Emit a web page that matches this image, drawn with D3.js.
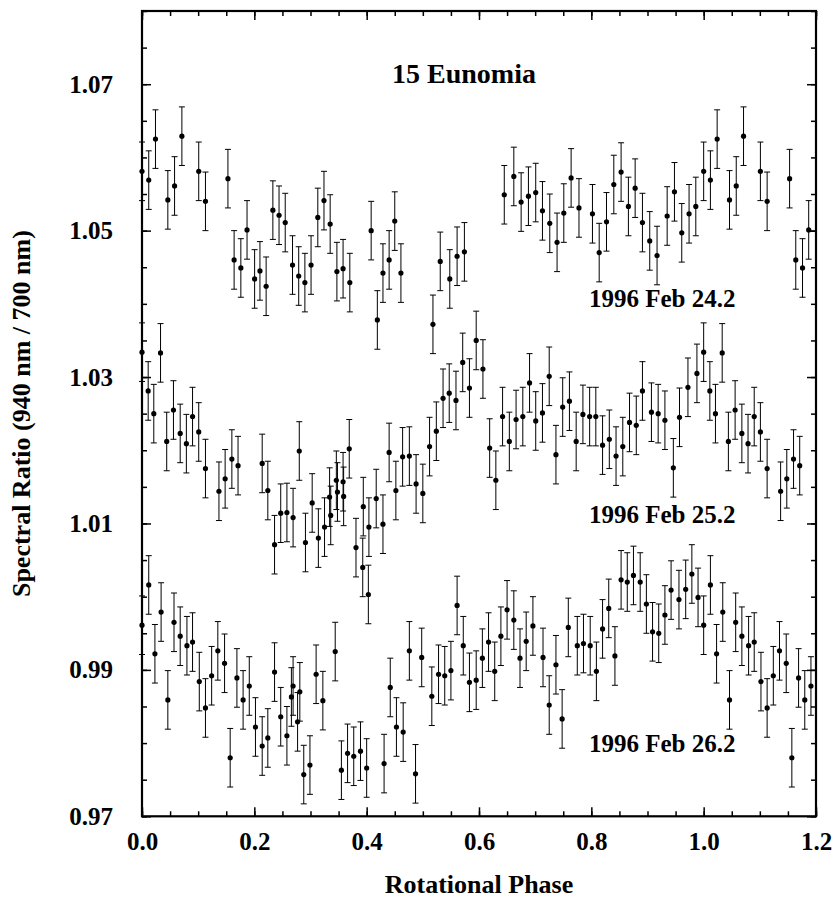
<!DOCTYPE html>
<html>
<head>
<meta charset="utf-8">
<script src="https://cdn.jsdelivr.net/npm/d3@7"></script>
<style>
  body { margin: 0; background: #fff; }
  svg text { font-family: "Liberation Serif", "Times New Roman", serif; font-weight: bold; fill: #000; }
</style>
</head>
<body>
<svg id="chart" width="833" height="916"></svg>
<script>
// rotational phase (0..1) and spectral ratio, one pair of arrays per night
const phase24 = [0.000,0.012,0.024,0.046,0.058,0.071,0.101,0.113,0.153,0.164,0.176,0.187,0.2005,0.210,0.221,0.233,0.244,0.255,0.268,0.279,0.290,0.301,0.313,0.324,0.335,0.347,0.358,0.370,0.408,0.419,0.429,0.440,0.450,0.461,0.518,0.531,0.548,0.561,0.574,0.645,0.662,0.675,0.688,0.701,0.713,0.726,0.739,0.751,0.764,0.778,0.802,0.814,0.827,0.840,0.853,0.866,0.878,0.891,0.904,0.917,0.935,0.948,0.961,0.974,0.986];
const ratio24 = [1.0581,1.0569,1.0625,1.0542,1.0561,1.0629,1.0581,1.0540,1.0571,1.0460,1.0449,1.0501,1.0434,1.0445,1.0424,1.0528,1.0521,1.0511,1.0453,1.0438,1.0429,1.0453,1.0518,1.0541,1.0509,1.0444,1.0448,1.0429,1.0500,1.0378,1.0442,1.0460,1.0513,1.0442,1.0372,1.0458,1.0434,1.0465,1.0471,1.0549,1.0574,1.0539,1.0547,1.0552,1.0527,1.0510,1.0484,1.0524,1.0572,1.0531,1.0523,1.0470,1.0512,1.0563,1.0580,1.0533,1.0558,1.0511,1.0486,1.0466,1.0520,1.0553,1.0497,1.0523,1.0533];

const phase25 = [0.000,0.011,0.021,0.033,0.044,0.056,0.068,0.079,0.090,0.101,0.113,0.137,0.148,0.160,0.171,0.214,0.224,0.236,0.247,0.258,0.269,0.280,0.291,0.303,0.314,0.325,0.334,0.336,0.346,0.348,0.358,0.359,0.369,0.381,0.393,0.394,0.404,0.403,0.417,0.429,0.440,0.452,0.464,0.476,0.488,0.500,0.512,0.524,0.536,0.547,0.559,0.571,0.583,0.595,0.607,0.619,0.630,0.642,0.654,0.666,0.678,0.690,0.701,0.713,0.725,0.737,0.749,0.761,0.773,0.785,0.797,0.808,0.820,0.832,0.844,0.856,0.868,0.880,0.891,0.907,0.919,0.931,0.946,0.957,0.972,0.988];
const ratio25 = [1.0334,1.0281,1.0250,1.0333,1.0212,1.0255,1.0223,1.0209,1.0246,1.0225,1.0175,1.0144,1.0161,1.0188,1.0179,1.0182,1.0145,1.0071,1.0114,1.0115,1.0108,1.0199,1.0074,1.0128,1.0080,1.0095,1.0136,1.0111,1.0159,1.0143,1.0157,1.0137,1.0202,1.0067,1.0040,1.0123,1.0095,1.0003,1.0134,1.0099,1.0197,1.0145,1.0191,1.0192,1.0154,1.0141,1.0205,1.0226,1.0271,1.0278,1.0268,1.0320,1.0285,1.0350,1.0311,1.0203,1.0159,1.0246,1.0212,1.0242,1.0246,1.0292,1.0240,1.0251,1.0301,1.0194,1.0259,1.0267,1.0212,1.0249,1.0246,1.0246,1.0207,1.0215,1.0192,1.0205,1.0238,1.0234,1.0281,1.0252,1.0250,1.0241,1.0176,1.0245,1.0286,1.0305];

const phase26 = [0.000,0.012,0.023,0.034,0.046,0.057,0.068,0.080,0.090,0.102,0.113,0.124,0.135,0.147,0.157,0.169,0.180,0.191,0.202,0.214,0.224,0.236,0.247,0.258,0.266,0.269,0.277,0.281,0.288,0.299,0.310,0.322,0.344,0.355,0.366,0.377,0.389,0.400,0.431,0.442,0.453,0.465,0.476,0.487,0.498,0.516,0.528,0.539,0.550,0.561,0.572,0.583,0.595,0.606,0.617,0.628,0.639,0.650,0.662,0.673,0.684,0.696,0.714,0.725,0.737,0.748,0.759,0.775,0.786,0.798,0.809,0.820,0.831,0.842,0.853,0.864,0.875,0.887,0.898,0.909,0.920,0.931,0.942,0.956,0.968,0.979,0.990];
const ratio26 = [0.9961,1.0016,0.9922,0.9979,0.9859,0.9965,0.9946,0.9933,0.9938,0.9884,0.9848,0.9892,0.9926,0.9909,0.9780,0.9889,0.9859,0.9878,0.9822,0.9796,0.9807,0.9897,0.9836,0.9810,0.9863,0.9878,0.9829,0.9870,0.9757,0.9770,0.9894,0.9858,0.9925,0.9763,0.9786,0.9782,0.9789,0.9766,0.9772,0.9876,0.9822,0.9815,0.9926,0.9758,0.9917,0.9864,0.9894,0.9892,0.9899,0.9988,0.9933,0.9883,0.9886,0.9916,0.9938,0.9898,0.9946,0.9982,0.9968,0.9916,0.9939,0.9960,0.9917,0.9852,0.9907,0.9833,0.9958,0.9933,0.9936,0.9933,0.9898,0.9956,0.9984,0.9919,1.0023,1.0020,1.0029,1.0020,0.9990,0.9952,0.9950,0.9975,1.0009,0.9996,1.0010,1.0031,0.9999];

const ratioError = 0.004;   // same 1-sigma bar on every point

const nightLabels = ["1996 Feb 24.2", "1996 Feb 25.2", "1996 Feb 26.2"];
const xTickLabels = ["0.0", "0.2", "0.4", "0.6", "0.8", "1.0", "1.2"];
const yTickLabels = ["0.97", "0.99", "1.01", "1.03", "1.05", "1.07"];

const svg = d3.select("#chart");

const x = d3.scaleLinear().domain([0, 1.2]).range([142, 816]);
const y = d3.scaleLinear().domain([0.97, 1.08]).range([816.3, 11]);

// phases below 0.2 are repeated one cycle later, as in the figure
function wrap(phases, ratios) {
    const pts = phases.map((p, i) => ({ p: p, r: ratios[i] }));
    phases.forEach((p, i) => {
        if (p + 1 <= 1.2) pts.push({ p: p + 1, r: ratios[i] });
    });
    return pts;
}
const points = [].concat(
    wrap(phase24, ratio24),
    wrap(phase25, ratio25),
    wrap(phase26, ratio26)
);

// ---- axes: inward ticks on all four sides
const xMajor = xTickLabels.map(Number);
const xMinor = d3.range(0, 1.2001, 0.05);
const yMajor = yTickLabels.map(Number);
const yMinor = d3.range(0.97, 1.0801, 0.005);

function styleAxis(g) {
    g.select(".domain").remove();
    g.selectAll("line").attr("stroke", "#000").attr("stroke-width", 1.5);
    g.attr("font-family", null).attr("font-size", 25);
}

svg.append("g")
    .attr("transform", `translate(0,${y(0.97)})`)
    .call(d3.axisBottom(x).tickValues(xMinor).tickSize(-5).tickFormat(""))
    .call(styleAxis);
svg.append("g")
    .attr("transform", `translate(0,${y(0.97)})`)
    .call(d3.axisBottom(x).tickValues(xMajor).tickSize(-9).tickPadding(16)
        .tickFormat((d, i) => xTickLabels[i]))
    .call(styleAxis);

svg.append("g")
    .attr("transform", `translate(0,${y(1.08)})`)
    .call(d3.axisTop(x).tickValues(xMinor).tickSize(-5).tickFormat(""))
    .call(styleAxis);
svg.append("g")
    .attr("transform", `translate(0,${y(1.08)})`)
    .call(d3.axisTop(x).tickValues(xMajor).tickSize(-9).tickFormat(""))
    .call(styleAxis);

svg.append("g")
    .attr("transform", `translate(${x(0)},0)`)
    .call(d3.axisLeft(y).tickValues(yMinor).tickSize(-5).tickFormat(""))
    .call(styleAxis);
svg.append("g")
    .attr("transform", `translate(${x(0)},0)`)
    .call(d3.axisLeft(y).tickValues(yMajor).tickSize(-9).tickPadding(29)
        .tickFormat((d, i) => yTickLabels[i]))
    .call(styleAxis);

svg.append("g")
    .attr("transform", `translate(${x(1.2)},0)`)
    .call(d3.axisRight(y).tickValues(yMinor).tickSize(-5).tickFormat(""))
    .call(styleAxis);
svg.append("g")
    .attr("transform", `translate(${x(1.2)},0)`)
    .call(d3.axisRight(y).tickValues(yMajor).tickSize(-9).tickFormat(""))
    .call(styleAxis);

// frame
svg.append("rect")
    .attr("x", x(0)).attr("y", y(1.08))
    .attr("width", x(1.2) - x(0)).attr("height", y(0.97) - y(1.08))
    .attr("fill", "none").attr("stroke", "#000").attr("stroke-width", 2.2);

// ---- error bars and points
const bars = svg.append("g").attr("stroke", "#000").attr("stroke-width", 1);
bars.selectAll(".bar").data(points).join("line")
    .attr("x1", d => x(d.p)).attr("x2", d => x(d.p))
    .attr("y1", d => y(d.r - ratioError)).attr("y2", d => y(d.r + ratioError));
bars.selectAll(".capTop").data(points).join("line")
    .attr("x1", d => x(d.p) - 3).attr("x2", d => x(d.p) + 3)
    .attr("y1", d => y(d.r + ratioError)).attr("y2", d => y(d.r + ratioError));
bars.selectAll(".capBot").data(points).join("line")
    .attr("x1", d => x(d.p) - 3).attr("x2", d => x(d.p) + 3)
    .attr("y1", d => y(d.r - ratioError)).attr("y2", d => y(d.r - ratioError));

svg.append("g").selectAll("circle").data(points).join("circle")
    .attr("cx", d => x(d.p)).attr("cy", d => y(d.r))
    .attr("r", 2.6).attr("fill", "#000");

// ---- text
svg.append("text")
    .attr("x", 464).attr("y", 83)
    .attr("text-anchor", "middle").attr("font-size", 28)
    .text("15 Eunomia");

const labelY = [1.0396, 1.0101, 0.9788];
svg.append("g").selectAll("text").data(nightLabels).join("text")
    .attr("x", 589).attr("y", (d, i) => y(labelY[i]))
    .attr("font-size", 25)
    .text(d => d);

svg.append("text")
    .attr("x", (x(0) + x(1.2)) / 2).attr("y", 893)
    .attr("text-anchor", "middle").attr("font-size", 26)
    .text("Rotational Phase");

svg.append("text")
    .attr("transform", `translate(30,${(y(0.97) + y(1.08)) / 2}) rotate(-90)`)
    .attr("text-anchor", "middle").attr("font-size", 26)
    .text("Spectral Ratio (940 nm / 700 nm)");
</script>
</body>
</html>
